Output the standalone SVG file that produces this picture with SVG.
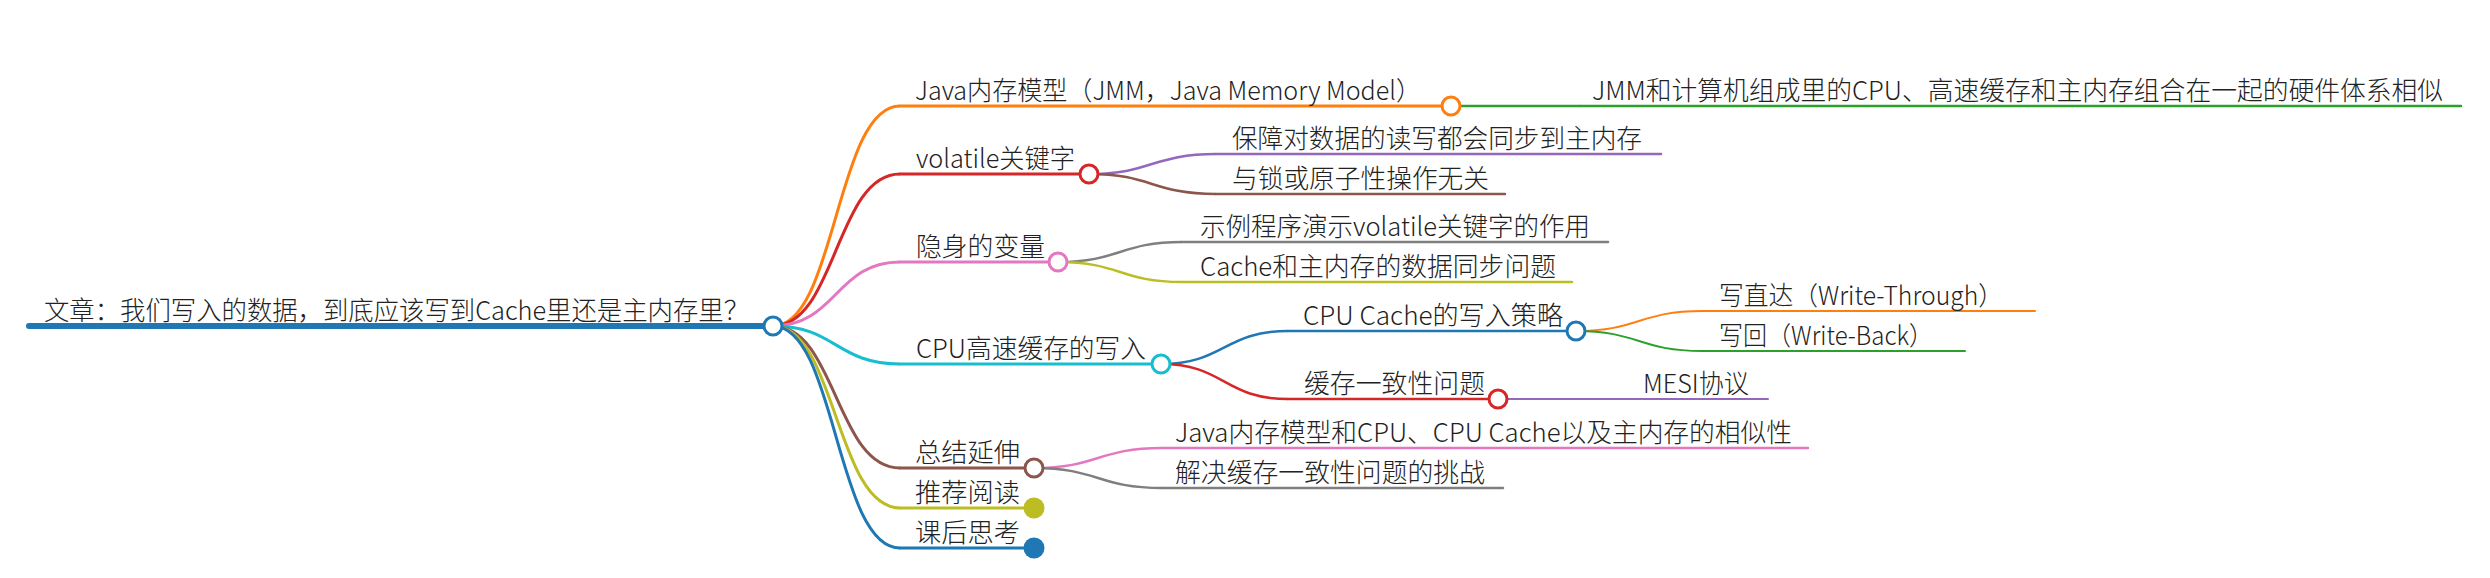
<svg xmlns="http://www.w3.org/2000/svg" width="2490" height="578" viewBox="0 0 2490 578">
<style>
  text { font-family: "Noto Sans CJK SC", "Noto Sans", sans-serif; font-size: 26px; font-weight: 300; fill: #222; }
  .ln { fill: none; stroke-linecap: round; }
  .d0 { stroke-width: 6; }
  .d1 { stroke-width: 3; }
  .d2 { stroke-width: 2.5; }
  .d3 { stroke-width: 2; }
  .cr { fill: #fff; stroke-width: 3; }
  .links path { fill: none; }
</style>
<rect width="2490" height="578" fill="#fff"/>
<g id="connectors" class="links">
  <path d="M773,326 C836,326 836,106 900,106" stroke="#ff7f0e" stroke-width="3"/>
  <path d="M773,326 C836,326 836,174 900,174" stroke="#d62728" stroke-width="3"/>
  <path d="M773,326 C836,326 836,262 900,262" stroke="#e377c2" stroke-width="3"/>
  <path d="M773,326 C836,326 836,364 900,364" stroke="#17becf" stroke-width="3"/>
  <path d="M773,326 C836,326 836,468 900,468" stroke="#8c564b" stroke-width="3"/>
  <path d="M773,326 C836,326 836,508 900,508" stroke="#bcbd22" stroke-width="3"/>
  <path d="M773,326 C836,326 836,548 900,548" stroke="#1f77b4" stroke-width="3"/>
  <path d="M1451,106 L1580,106" stroke="#2ca02c" stroke-width="2.5"/>
  <path d="M1089,174 C1152,174 1152,154 1216,154" stroke="#9467bd" stroke-width="2.5"/>
  <path d="M1089,174 C1152,174 1152,194 1216,194" stroke="#8c564b" stroke-width="2.5"/>
  <path d="M1058,262 C1120,262 1120,242 1182,242" stroke="#7f7f7f" stroke-width="2.5"/>
  <path d="M1058,262 C1120,262 1120,282 1182,282" stroke="#bcbd22" stroke-width="2.5"/>
  <path d="M1161,364 C1224,364 1224,331 1288,331" stroke="#1f77b4" stroke-width="2.5"/>
  <path d="M1161,364 C1224,364 1224,399 1288,399" stroke="#d62728" stroke-width="2.5"/>
  <path d="M1576,331 C1639,331 1639,311 1702,311" stroke="#ff7f0e" stroke-width="2"/>
  <path d="M1576,331 C1639,331 1639,351 1702,351" stroke="#2ca02c" stroke-width="2"/>
  <path d="M1498,399 L1622,399" stroke="#9467bd" stroke-width="2"/>
  <path d="M1034,468 C1098,468 1098,448 1162,448" stroke="#e377c2" stroke-width="2.5"/>
  <path d="M1034,468 C1098,468 1098,488 1162,488" stroke="#7f7f7f" stroke-width="2.5"/>
</g>
<g id="root">
  <line class="ln d0" x1="29" y1="326" x2="773" y2="326" stroke="#1f77b4" stroke-linecap="butt"/>
  <text x="44" y="320" textLength="705" lengthAdjust="spacingAndGlyphs">文章：我们写入的数据，到底应该写到Cache里还是主内存里？</text>
  <circle cx="773" cy="326" r="9" fill="#fff" stroke="#1f77b4" stroke-width="3"/>
</g>
<g id="n-jmm">
  <line class="ln d1" x1="900" y1="106" x2="1451" y2="106" stroke="#ff7f0e"/>
  <text x="915" y="100" textLength="506" lengthAdjust="spacingAndGlyphs">Java内存模型（JMM，Java Memory Model）</text>
  <circle class="cr" cx="1451" cy="106" r="9" stroke="#ff7f0e"/>
</g>
<g id="n-jmm-1">
  <line class="ln d2" x1="1580" y1="106" x2="2461" y2="106" stroke="#2ca02c"/>
  <text x="1592" y="100" textLength="851" lengthAdjust="spacingAndGlyphs">JMM和计算机组成里的CPU、高速缓存和主内存组合在一起的硬件体系相似</text>
</g>
<g id="n-volatile">
  <line class="ln d1" x1="900" y1="174" x2="1089" y2="174" stroke="#d62728"/>
  <text x="916" y="168" textLength="159" lengthAdjust="spacingAndGlyphs">volatile关键字</text>
  <circle class="cr" cx="1089" cy="174" r="9" stroke="#d62728"/>
</g>
<g id="n-volatile-1">
  <line class="ln d2" x1="1216" y1="154" x2="1661" y2="154" stroke="#9467bd"/>
  <text x="1232" y="148" textLength="410" lengthAdjust="spacingAndGlyphs">保障对数据的读写都会同步到主内存</text>
</g>
<g id="n-volatile-2">
  <line class="ln d2" x1="1216" y1="194" x2="1505" y2="194" stroke="#8c564b"/>
  <text x="1232" y="188" textLength="257" lengthAdjust="spacingAndGlyphs">与锁或原子性操作无关</text>
</g>
<g id="n-hidden">
  <line class="ln d1" x1="900" y1="262" x2="1058" y2="262" stroke="#e377c2"/>
  <text x="916" y="256" textLength="129" lengthAdjust="spacingAndGlyphs">隐身的变量</text>
  <circle class="cr" cx="1058" cy="262" r="9" stroke="#e377c2"/>
</g>
<g id="n-hidden-1">
  <line class="ln d2" x1="1182" y1="242" x2="1608" y2="242" stroke="#7f7f7f"/>
  <text x="1200" y="236" textLength="390" lengthAdjust="spacingAndGlyphs">示例程序演示volatile关键字的作用</text>
</g>
<g id="n-hidden-2">
  <line class="ln d2" x1="1182" y1="282" x2="1572" y2="282" stroke="#bcbd22"/>
  <text x="1200" y="276" textLength="356" lengthAdjust="spacingAndGlyphs">Cache和主内存的数据同步问题</text>
</g>
<g id="n-cpu">
  <line class="ln d1" x1="900" y1="364" x2="1161" y2="364" stroke="#17becf"/>
  <text x="916" y="358" textLength="230" lengthAdjust="spacingAndGlyphs">CPU高速缓存的写入</text>
  <circle class="cr" cx="1161" cy="364" r="9" stroke="#17becf"/>
</g>
<g id="n-cpu-policy">
  <line class="ln d2" x1="1288" y1="331" x2="1576" y2="331" stroke="#1f77b4"/>
  <text x="1303" y="325" textLength="260" lengthAdjust="spacingAndGlyphs">CPU Cache的写入策略</text>
  <circle class="cr" cx="1576" cy="331" r="9" stroke="#1f77b4"/>
</g>
<g id="n-write-through">
  <line class="ln d3" x1="1702" y1="311" x2="2035" y2="311" stroke="#ff7f0e"/>
  <text x="1719" y="305" textLength="284" lengthAdjust="spacingAndGlyphs">写直达（Write-Through）</text>
</g>
<g id="n-write-back">
  <line class="ln d3" x1="1702" y1="351" x2="1965" y2="351" stroke="#2ca02c"/>
  <text x="1719" y="345" textLength="214" lengthAdjust="spacingAndGlyphs">写回（Write-Back）</text>
</g>
<g id="n-coherence">
  <line class="ln d2" x1="1288" y1="399" x2="1498" y2="399" stroke="#d62728"/>
  <text x="1304" y="393" textLength="181" lengthAdjust="spacingAndGlyphs">缓存一致性问题</text>
  <circle class="cr" cx="1498" cy="399" r="9" stroke="#d62728"/>
</g>
<g id="n-mesi">
  <line class="ln d3" x1="1622" y1="399" x2="1768" y2="399" stroke="#9467bd"/>
  <text x="1643" y="393" textLength="106" lengthAdjust="spacingAndGlyphs">MESI协议</text>
</g>
<g id="n-summary">
  <line class="ln d1" x1="900" y1="468" x2="1034" y2="468" stroke="#8c564b"/>
  <text x="915" y="462" textLength="105" lengthAdjust="spacingAndGlyphs">总结延伸</text>
  <circle class="cr" cx="1034" cy="468" r="9" stroke="#8c564b"/>
</g>
<g id="n-summary-1">
  <line class="ln d2" x1="1162" y1="448" x2="1808" y2="448" stroke="#e377c2"/>
  <text x="1175" y="442" textLength="617" lengthAdjust="spacingAndGlyphs">Java内存模型和CPU、CPU Cache以及主内存的相似性</text>
</g>
<g id="n-summary-2">
  <line class="ln d2" x1="1162" y1="488" x2="1503" y2="488" stroke="#7f7f7f"/>
  <text x="1175" y="482" textLength="310" lengthAdjust="spacingAndGlyphs">解决缓存一致性问题的挑战</text>
</g>
<g id="n-reading">
  <line class="ln d1" x1="900" y1="508" x2="1034" y2="508" stroke="#bcbd22"/>
  <text x="915" y="502" textLength="105" lengthAdjust="spacingAndGlyphs">推荐阅读</text>
  <circle cx="1034" cy="508" r="10.5" fill="#bcbd22"/>
</g>
<g id="n-thinking">
  <line class="ln d1" x1="900" y1="548" x2="1034" y2="548" stroke="#1f77b4"/>
  <text x="915" y="542" textLength="105" lengthAdjust="spacingAndGlyphs">课后思考</text>
  <circle cx="1034" cy="548" r="10.5" fill="#1f77b4"/>
</g>
</svg>
